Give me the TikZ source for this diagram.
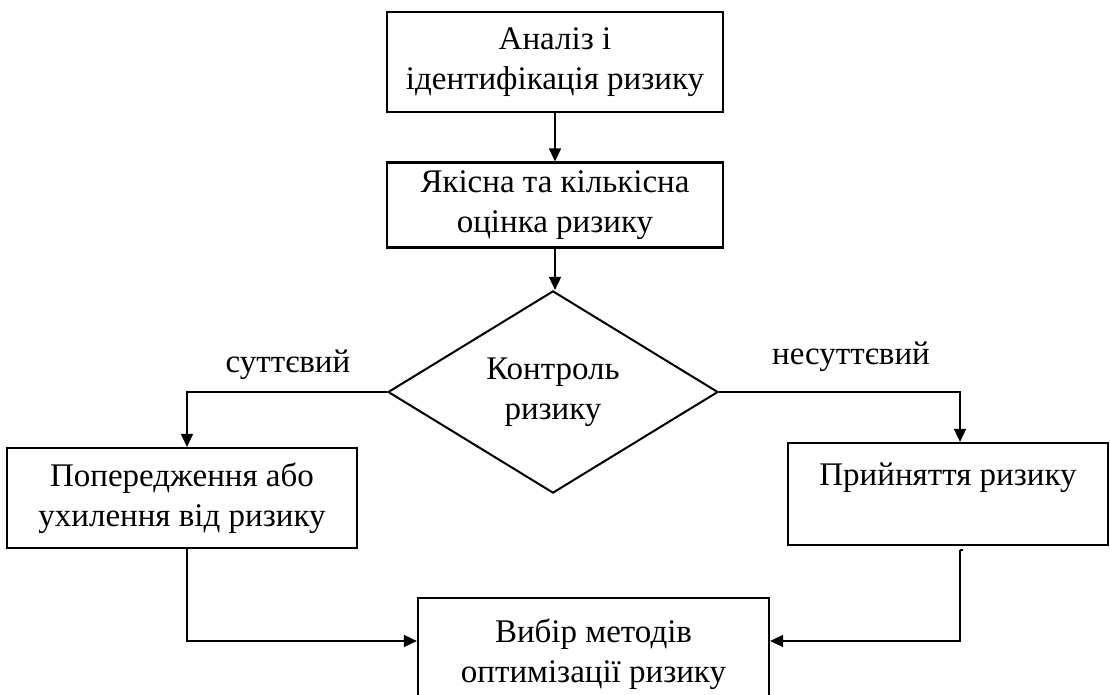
\documentclass[tikz,border=0pt]{standalone}
\usepackage{fontspec}
\setmainfont{Liberation Serif}
\usetikzlibrary{shapes.geometric,arrows.meta}
\begin{document}
\begin{tikzpicture}[x=1pt,y=-1pt,
  box/.style={draw,line width=2.2pt,rectangle,align=center,inner sep=0pt,
    font=\fontsize{33}{40}\selectfont},
  lbl/.style={font=\fontsize{33}{40}\selectfont,inner sep=0pt},
  conn/.style={line width=1.7pt,-{Triangle[length=13pt,width=12pt]}},
  plain/.style={line width=1.7pt}]
\useasboundingbox (0,0) rectangle (1110,695);
\clip (0,0) rectangle (1110,695);
\node[box,minimum width=336pt,minimum height=100pt] (b1) at (555,62) {Аналіз і\\ідентифікація ризику};
\node[box,minimum width=336pt,minimum height=85pt] (b2) at (555,205) {Якісна та кількісна\\оцінка ризику};
\node[box,shape=diamond,line width=2pt,minimum width=330pt,minimum height=190pt] (d) at (553,392) {Контроль\\ризику};
\node[box,minimum width=350pt,minimum height=100pt] (b3) at (182,498) {Попередження або\\ухилення від ризику};
\node[box,minimum width=320pt,minimum height=102pt] (b4) at (948,494) {Прийняття ризику\\\mbox{}};
\node[box,minimum width=351pt,minimum height=112pt] (b5) at (593.5,654) {Вибір методів\\оптимізації ризику};
\node[lbl] (s) at (288,365) {суттєвий};
\node[lbl] (ns) at (851,357) {несуттєвий};
\draw[conn] (b1.south) -- (b2.north);
\draw[conn] (b2.south) -- (b2.south |- d.north);
\draw[conn] (d.west) -| ([xshift=5pt]b3.north);
\draw[conn] (d.east) -| ([xshift=12pt]b4.north);
\draw[conn] ([xshift=5pt]b3.south) |- ([yshift=13pt]b5.west);
\coordinate (t) at ([xshift=12pt,yshift=-4pt]b4.south);
\draw[plain] ([xshift=3pt]t) -- (t);
\draw[conn] (t) |- ([yshift=13pt]b5.east);
\end{tikzpicture}
\end{document}
